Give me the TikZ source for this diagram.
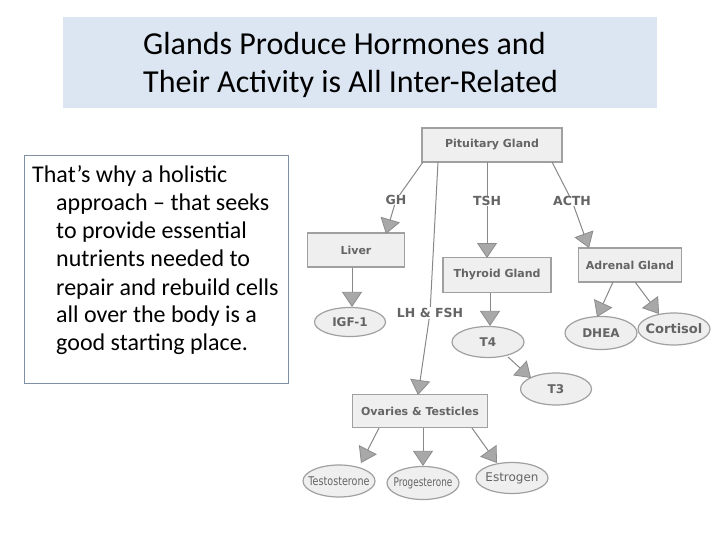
\documentclass[tikz,border=0pt]{standalone}
\usepackage{fontspec}
\setmainfont{Carlito}
\newfontfamily\djb{DejaVu Sans}
\usetikzlibrary{arrows.meta,shapes.geometric}
\definecolor{titlebg}{HTML}{DCE6F2}
\definecolor{sideborder}{HTML}{8090A4}
\definecolor{nodefill}{HTML}{EFEFEF}
\definecolor{nodeborder}{HTML}{A0A0A0}
\definecolor{nodetext}{HTML}{646464}
\definecolor{linegray}{HTML}{888888}
\definecolor{headfill}{HTML}{A8A8A8}
\definecolor{headdraw}{HTML}{8C8C8C}
\tikzset{
  gbox/.style={draw=nodeborder, line width=1.2pt, fill=nodefill, rectangle, inner sep=0pt,
    font=\djb\bfseries\fontsize{11}{13}\selectfont, text=nodetext},
  gell/.style={draw=nodeborder, line width=1.2pt, fill=nodefill, ellipse, inner sep=0pt,
    font=\djb\bfseries\fontsize{12}{14}\selectfont, text=nodetext},
  gthin/.style={font=\djb\fontsize{12}{14}\selectfont},
  glabel/.style={font=\djb\bfseries\fontsize{12.5}{14}\selectfont, text=nodetext, inner sep=0pt},
  garrow/.style={draw=linegray, line width=1pt,
    -{Triangle[width=20pt, length=15pt, fill=headfill, color=headdraw, line width=0.8pt]}},
  gline/.style={draw=linegray, line width=1pt}
}
\begin{document}
\begin{tikzpicture}[x=1pt,y=-1pt]
\useasboundingbox (0,0) rectangle (720,540);
\fill[white] (0,0) rectangle (720,540);
% title
\node[fill=titlebg, minimum width=594pt, minimum height=91pt, anchor=north west, inner sep=0pt] (titlebox) at (63,17) {};
\node[anchor=base west, inner sep=0pt, font=\fontsize{32}{38}\selectfont] (title) at (143,55)
  {\parbox[t]{500pt}{\raggedright Glands Produce Hormones and\\Their Activity is All Inter-Related}};
% side box
\node[draw=sideborder, line width=1pt, minimum width=264pt, minimum height=228pt, anchor=north west, inner sep=0pt] (sidebox) at (24,155) {};
\node[anchor=base west, inner sep=0pt, font=\fontsize{24}{28}\selectfont] (sidetext) at (32,183)
  {\parbox[t]{256pt}{\raggedright\hangindent=24pt\hangafter=1
   That’s why a holistic\newline approach -- that seeks\newline to provide essential\newline nutrients needed to\newline repair and rebuild cells\newline all over the body is a\newline good starting place.}};
% diagram nodes
\node[gbox, minimum width=140pt, minimum height=34pt] (pit) at (492,145) {Pituitary Gland};
\node[gbox, minimum width=97pt, minimum height=34pt] (liver) at (356,250) {Liver};
\node[gbox, minimum width=108pt, minimum height=35pt] (thy) at (497,275) {Thyroid Gland};
\node[gbox, minimum width=103pt, minimum height=34pt] (adr) at (630,265) {Adrenal Gland};
\node[gbox, minimum width=135pt, minimum height=33pt] (ova) at (420,411) {Ovaries \& Testicles};
\node[gell, minimum width=71pt, minimum height=29pt] (igf) at (350,322) {\makebox[0pt]{IGF-1}};
\node[gell, minimum width=72pt, minimum height=31pt] (t4) at (488,342) {\makebox[0pt]{T4}};
\node[gell, minimum width=71pt, minimum height=32pt] (t3) at (556,389) {\makebox[0pt]{T3}};
\node[gell, minimum width=72pt, minimum height=33pt] (dhea) at (601,333) {\makebox[0pt]{DHEA}};
\node[gell, minimum width=72pt, minimum height=32pt, font=\djb\bfseries\fontsize{13}{15}\selectfont] (cort) at (674,329) {\makebox[0pt]{Cortisol}};
\node[gell, gthin, minimum width=72pt, minimum height=32pt] (test) at (339,481) {\makebox[0pt]{\scalebox{0.8}[1]{Testosterone}}};
\node[gell, gthin, minimum width=72pt, minimum height=33pt] (prog) at (423,483) {\makebox[0pt]{\scalebox{0.74}[1]{Progesterone}}};
\node[gell, gthin, minimum width=72pt, minimum height=31pt] (estr) at (512,478) {\makebox[0pt]{Estrogen}};
% labels
\node[glabel] (lgh) at (396,200) {GH};
\node[glabel] (ltsh) at (487,201) {TSH};
\node[glabel] (lacth) at (572,201) {ACTH};
\node[glabel, fill=white, inner sep=1pt] (llh) at (430,313) {LH \& FSH};
% coordinates
\coordinate (pghs) at (423,162);
\coordinate (pghe) at (386,234);
\coordinate (plhs) at (438,162);
\coordinate (plhe) at (418,395);
\coordinate (ptshs) at (487,162);
\coordinate (ptshe) at (487,258);
\coordinate (pacs) at (552,162);
\coordinate (pace) at (589,248);
\coordinate (t4s) at (508,357);
\coordinate (t3e) at (531,378);
\coordinate (dhs) at (613,282);
\coordinate (dhe) at (597,317);
\coordinate (cos) at (635,282);
\coordinate (coe) at (659,314);
\coordinate (tes) at (379,428);
\coordinate (tee) at (361,463);
\coordinate (ess) at (472,428);
\coordinate (ese) at (497,463);
% connectors
\draw[gline] (pghs) -- (lgh);
\draw[garrow] (lgh) -- (pghe);
\draw[gline] (plhs) -- (llh);
\draw[garrow] (llh) -- (plhe);
\draw[gline] (ptshs) -- (ltsh);
\draw[garrow] (ltsh) -- (ptshe);
\draw[gline] (pacs) -- (lacth);
\draw[garrow] (lacth) -- (pace);
\draw[garrow] (liver.south -| 352,0) -- (igf.north -| 352,0);
\draw[garrow] (thy.south -| 490,0) -- (t4.north -| 490,0);
\draw[garrow] (t4s) -- (t3e);
\draw[garrow] (dhs) -- (dhe);
\draw[garrow] (cos) -- (coe);
\draw[garrow] (tes) -- (tee);
\draw[garrow] (ova.south -| 423,0) -- (prog.north);
\draw[garrow] (ess) -- (ese);
\end{tikzpicture}
\end{document}
